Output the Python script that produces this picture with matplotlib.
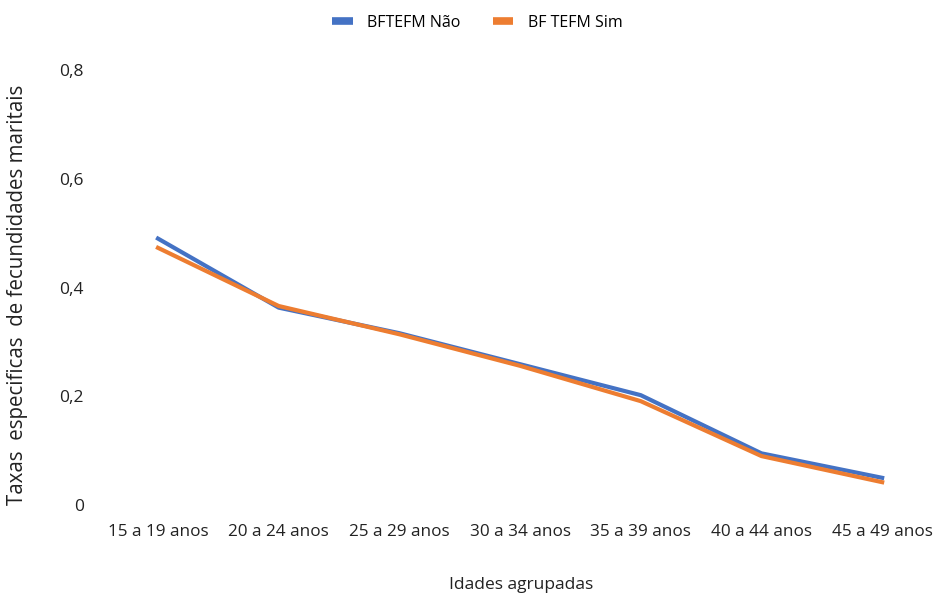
#!/usr/bin/env python
# -*- coding:utf-8 -*-

"""
taxas especificas de fecundidades maritais por idade
"""

import matplotlib
matplotlib.use('Agg')
import matplotlib.pyplot as plt
import numpy as np

categories = ['15 a 19 anos', '20 a 24 anos', '25 a 29 anos', '30 a 34 anos',
              '35 a 39 anos', '40 a 44 anos', '45 a 49 anos']
nao = [0.490, 0.363, 0.316, 0.259, 0.202, 0.095, 0.050]
sim = [0.473, 0.366, 0.314, 0.256, 0.191, 0.090, 0.042]
yticks = [0, 0.2, 0.4, 0.6, 0.8]
ytick_labels = ['0', '0,2', '0,4', '0,6', '0,8']


def my_plot():
    plt.rcParams['font.family'] = ['Open Sans', 'DejaVu Sans']
    fig = plt.figure(figsize=(9.36, 5.98), dpi=100)
    ax = fig.add_axes([0.1043, 0.1555, 0.8957, 0.7274])
    X = np.arange(len(categories))
    ax.plot(X, nao, color='#4472C4', linewidth=3.0, label='BFTEFM Não')
    ax.plot(X, sim, color='#ED7D31', linewidth=3.0, label='BF TEFM Sim')

    ax.set_xlim(-0.5, 6.446)
    ax.set_ylim(0, 0.8)
    ax.set_xticks(X)
    ax.set_xticklabels(categories, fontsize=12.3, color='#222222')
    ax.set_yticks(yticks)
    ax.set_yticklabels(ytick_labels, fontsize=12.5, color='#222222')
    ax.tick_params(length=0, axis='y', pad=10)
    ax.tick_params(length=0, axis='x', pad=14)
    for s in ax.spines.values():
        s.set_visible(False)

    fig.text(0.557, 0.022, 'Idades agrupadas', ha='center', va='center', fontsize=12.5, color='#222222')
    fig.text(0.019, 0.507, 'Taxas  especificas  de fecundidades maritais', rotation=90,
             ha='center', va='center', fontsize=14.8, color='#222222')

    leg = fig.legend(loc='center', bbox_to_anchor=(0.51, 0.962), ncol=2, frameon=False,
                     fontsize=11.5, handlelength=1.3, columnspacing=2.0, handletextpad=0.9)
    for h in leg.legend_handles:
        h.set_linewidth(5.5)
        h.set_solid_capstyle('butt')
    plt.savefig('out.png', dpi=100)


if __name__ == '__main__':
    my_plot()
